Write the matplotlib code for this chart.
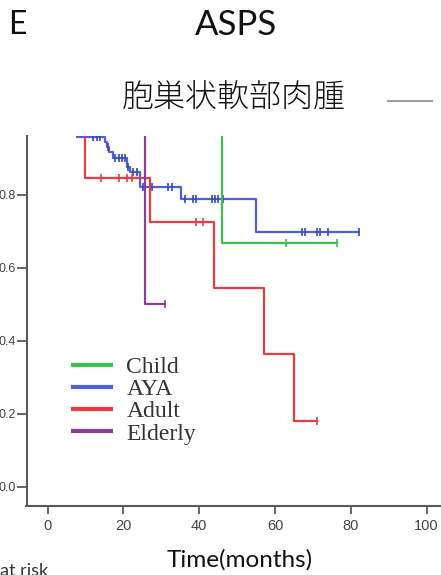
import numpy as np
import matplotlib
matplotlib.use("Agg")
import matplotlib.pyplot as plt
from matplotlib.lines import Line2D

# Kaplan-Meier curves by age group: step times (months), survival after each step,
# last follow-up time and censored times
child_t = [0, 45.9]
child_s = [1.0, 0.667]
child_end = 76.3
child_cens = [62.9, 76.3]

aya_t = [0, 7.7, 15.1, 15.6, 16.2, 17.2, 20.9, 21.7, 24.4, 35.1, 55.1]
aya_s = [1.0, 0.957, 0.945, 0.932, 0.918, 0.901, 0.877, 0.863, 0.822, 0.787, 0.699]
aya_end = 82.2
aya_cens = [12.0, 13.0, 13.8, 15.8, 17.8, 18.8, 19.6, 20.4, 21.2, 22.5, 23.6,
            25.2, 27.4, 31.8, 32.7, 36.2, 38.4, 39.1, 43.3, 44.1, 45.0, 46.3,
            67.2, 67.9, 71.0, 71.9, 74.0, 82.2]

adult_t = [0, 9.8, 27.0, 44.0, 57.2, 65.1]
adult_s = [1.0, 0.846, 0.725, 0.544, 0.363, 0.181]
adult_end = 71.2
adult_cens = [14.0, 18.9, 21.0, 22.2, 39.1, 40.9, 71.2]

eld_t = [0, 25.8]
eld_s = [1.0, 0.5]
eld_end = 31.0
eld_cens = [31.0]

groups = ["Child", "AYA", "Adult", "Elderly"]
colors = ["#3cc24a", "#4f5fd9", "#ec3a42", "#8b3f98"]
cens_colors = ["#3cc24a", "#3a48b0", "#ec3a42", "#8b3f98"]

xticks = [0, 20, 40, 60, 80, 100]
yticks = [0.0, 0.2, 0.4, 0.6, 0.8]

fig = plt.figure(figsize=(4.41, 5.75), dpi=100)
ax = fig.add_axes([26.5 / 441, 69 / 575, 1 - 26.5 / 441, 370 / 575])


def km(ax, t, s, end, cens, color, ccolor, label, z):
    tt = list(t) + [end]
    ss = list(s) + [s[-1]]
    ax.step(tt, ss, where="post", color=color, lw=1.6, label=label, zorder=z)
    idx = np.searchsorted(t, cens, side="right") - 1
    ax.plot(cens, np.array(s)[idx], linestyle="none", marker="|",
            markersize=6, mew=1.2, color=ccolor, zorder=z)


data = [(child_t, child_s, child_end, child_cens),
        (aya_t, aya_s, aya_end, aya_cens),
        (adult_t, adult_s, adult_end, adult_cens),
        (eld_t, eld_s, eld_end, eld_cens)]
zorders = [5, 2, 3, 4]
for (t, s, end, cens), c, cc, g, z in zip(data, colors, cens_colors, groups, zorders):
    km(ax, t, s, end, cens, c, cc, g, z)

ax.set_xlim(-5.6, 103.8)
ax.set_ylim(-0.053, 0.961)
ax.set_xticks(xticks)
ax.set_yticks(yticks)
ax.set_yticklabels(["%.1f" % v for v in yticks])
for side in ["top", "right"]:
    ax.spines[side].set_visible(False)
for side in ["left", "bottom"]:
    ax.spines[side].set_color("#5a5a5a")
    ax.spines[side].set_linewidth(1.5)
ax.tick_params(axis="x", length=6, width=1.3, color="#5a5a5a",
               labelcolor="#444444", labelsize=10.5, pad=3)
ax.tick_params(axis="y", length=7, width=1.3, color="#5a5a5a",
               labelcolor="#444444", labelsize=9, pad=1)
for lab in ax.get_xticklabels() + ax.get_yticklabels():
    lab.set_family("Liberation Sans")

leg = ax.legend(loc="upper left", bbox_to_anchor=(0.09, 0.43), frameon=False,
                prop={"family": "Liberation Serif", "size": 17},
                handlelength=1.6, handletextpad=0.65, labelspacing=0.03,
                borderaxespad=0)
for h in leg.get_lines():
    h.set_linewidth(3)
for txt in leg.get_texts():
    txt.set_color("#333333")

fig.text(17 / 441, 1 - 25 / 575, "E", family="Lato", fontsize=23,
         ha="center", va="center", color="#111111")
fig.text(236 / 441, 1 - 25 / 575, "ASPS", family="Lato", fontsize=25,
         ha="center", va="center", color="#111111")
fig.text(234 / 441, 1 - 99 / 575, "胞巣状軟部肉腫",
         family=["Noto Sans CJK JP", "DejaVu Sans"], fontweight="light",
         fontsize=23, ha="center", va="center", color="#111111")
fig.add_artist(Line2D([388 / 441, 432 / 441], [1 - 101 / 575, 1 - 101 / 575],
                      color="#a0a0a0", lw=1.5))
fig.text(240 / 441, 1 - 560 / 575, "Time(months)", family="Lato", fontsize=17.5,
         ha="center", va="center", color="#111111")
fig.text(0, 1 - 571 / 575, "at risk", family="Lato", fontsize=13,
         ha="left", va="center", color="#333333")

fig.savefig("out.png", dpi=100)
